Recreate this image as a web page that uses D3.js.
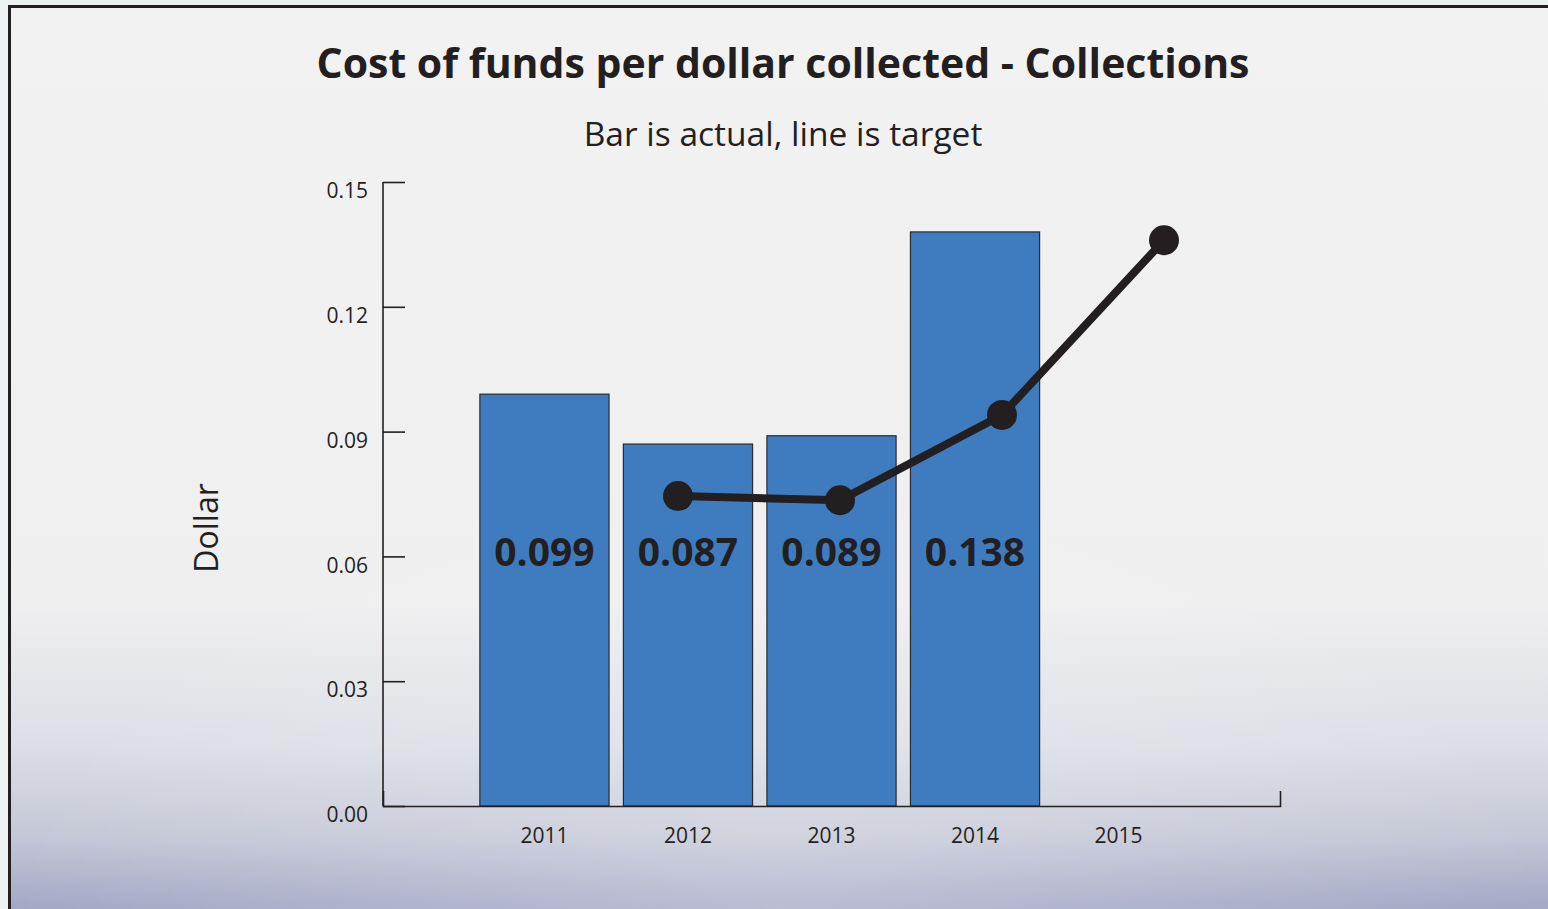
<!DOCTYPE html>
<html>
<head>
<meta charset="utf-8">
<script src="https://cdn.jsdelivr.net/npm/d3@7"></script>
<style>
  body { margin: 0; background: #eef1f2; }
  svg { display: block; }
</style>
</head>
<body>
<div id="chart"></div>
<script>
// data
const years = [2011, 2012, 2013, 2014, 2015];
const actual = [0.099, 0.087, 0.089, 0.138];          // bars, 2011-2014
const actualLabels = ["0.099", "0.087", "0.089", "0.138"];
const targetYears = [2012, 2013, 2014, 2015];
const target = [0.0745, 0.0735, 0.094, 0.136];         // line
const yTicks = [0, 0.03, 0.06, 0.09, 0.12, 0.15];

const W = 1548, H = 909;
const margin = {top: 182, right: 268, bottom: 103, left: 383};
const ink = "#231f20";
const font = "'Open Sans', sans-serif";

let svg = d3.select("#chart").append("svg")
    .attr("width", W)
    .attr("height", H);

// background
let defs = svg.append("defs");
let grad = defs.append("linearGradient")
    .attr("id", "bg").attr("x1", 0).attr("y1", 0).attr("x2", 0).attr("y2", 1);
grad.append("stop").attr("offset", "0%").attr("stop-color", "#f2f2f2");
grad.append("stop").attr("offset", "66%").attr("stop-color", "#efeff0");
grad.append("stop").attr("offset", "82%").attr("stop-color", "#dcdee5");
grad.append("stop").attr("offset", "92%").attr("stop-color", "#c4c7d6");
grad.append("stop").attr("offset", "100%").attr("stop-color", "#a2a7c5");

let glow = defs.append("radialGradient")
    .attr("id", "glow").attr("cx", 0.5).attr("cy", 1).attr("r", 0.5);
glow.append("stop").attr("offset", "0%").attr("stop-color", "#ffffff").attr("stop-opacity", 0.25);
glow.append("stop").attr("offset", "100%").attr("stop-color", "#ffffff").attr("stop-opacity", 0);

svg.append("rect").attr("x", 0).attr("y", 0).attr("width", W).attr("height", H).attr("fill", "#eef1f2");
svg.append("rect").attr("x", 9).attr("y", 6).attr("width", W - 9).attr("height", H - 6).attr("fill", "url(#bg)");
svg.append("rect").attr("x", 9).attr("y", 6).attr("width", W - 9).attr("height", H - 6).attr("fill", "url(#glow)");

// frame
svg.append("path")
    .attr("d", `M9.5,${H} V6.5 H${W}`)
    .attr("fill", "none")
    .attr("stroke", ink)
    .attr("stroke-width", 3);

// scales
let x = d3.scaleBand()
    .domain(years)
    .range([margin.left, W - margin.right])
    .paddingInner(0.1)
    .paddingOuter(0.675);

let xLine = d3.scaleLinear()
    .domain([2011, 2015])
    .range([516, 1164]);

let y = d3.scaleLinear()
    .domain([0, 0.15])
    .range([H - margin.bottom, margin.top]);

// titles
svg.append("text")
    .attr("x", 783).attr("y", 78)
    .attr("text-anchor", "middle")
    .attr("font-family", font).attr("font-weight", 700)
    .attr("font-size", 41)
    .attr("fill", ink)
    .text("Cost of funds per dollar collected - Collections");

svg.append("text")
    .attr("x", 783).attr("y", 146)
    .attr("text-anchor", "middle")
    .attr("font-family", font)
    .attr("font-size", 33.5)
    .attr("fill", ink)
    .text("Bar is actual, line is target");

svg.append("text")
    .attr("transform", "translate(218,528) rotate(-90)")
    .attr("text-anchor", "middle")
    .attr("font-family", font)
    .attr("font-size", 32)
    .attr("fill", ink)
    .text("Dollar");

// bars
svg.selectAll(".bar").data(actual).enter()
    .append("rect").attr("class", "bar")
    .attr("x", (d, i) => x(years[i]))
    .attr("y", d => y(d))
    .attr("width", x.bandwidth())
    .attr("height", d => y(0) - y(d))
    .attr("fill", "#3e7cbf")
    .attr("stroke", "#2a2a2e")
    .attr("stroke-width", 1.2);

// axes
let yAxis = d3.axisLeft(y)
    .tickValues(yTicks)
    .tickFormat(d3.format(".2f"))
    .tickSize(-22)
    .tickSizeOuter(0)
    .tickPadding(15);

let gy = svg.append("g")
    .attr("transform", `translate(${margin.left},0)`)
    .call(yAxis);

let xAxis = d3.axisBottom(x)
    .tickSize(0)
    .tickSizeOuter(-15)
    .tickPadding(22);

let gx = svg.append("g")
    .attr("transform", `translate(0,${H - margin.bottom})`)
    .call(xAxis);

[gx, gy].forEach(g => {
    g.selectAll("path, line").attr("stroke", ink).attr("stroke-width", 1.6);
    g.selectAll("text").attr("font-family", font).attr("font-size", 21).attr("fill", ink);
});
gy.selectAll(".tick text").attr("dy", "0.32em").attr("transform", "translate(0,9)");
gy.select(".domain").attr("d", `M0,${y(0.15)}V${y(0)}`);

// bar value labels
svg.selectAll(".val").data(actualLabels).enter()
    .append("text").attr("class", "val")
    .attr("x", (d, i) => x(years[i]) + x.bandwidth() / 2)
    .attr("y", 566)
    .attr("text-anchor", "middle")
    .attr("font-family", font).attr("font-weight", 700)
    .attr("font-size", 39)
    .attr("fill", ink)
    .text(d => d);

// target line
let line = d3.line()
    .x((d, i) => xLine(targetYears[i]))
    .y(d => y(d));

svg.append("path")
    .datum(target)
    .attr("d", line)
    .attr("fill", "none")
    .attr("stroke", ink)
    .attr("stroke-width", 8);

svg.selectAll(".dot").data(target).enter()
    .append("circle").attr("class", "dot")
    .attr("cx", (d, i) => xLine(targetYears[i]))
    .attr("cy", d => y(d))
    .attr("r", 15)
    .attr("fill", ink);
</script>
</body>
</html>
